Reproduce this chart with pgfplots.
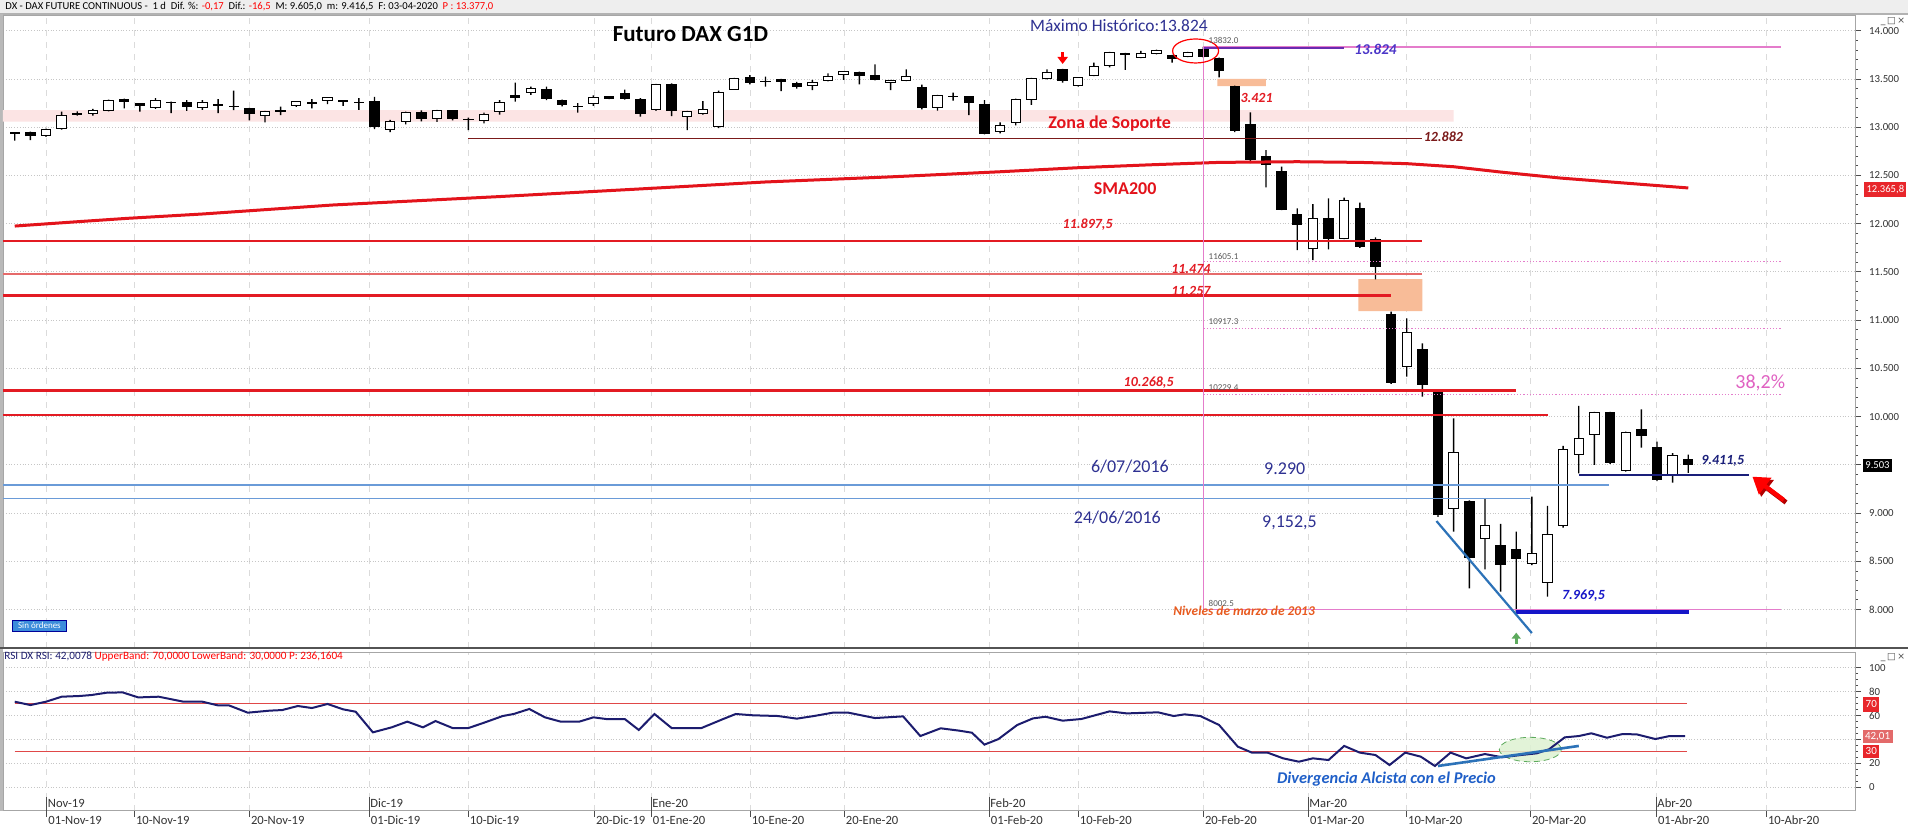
\documentclass[border=0pt]{standalone}
\usepackage{pgfplots}
\pgfplotsset{compat=1.18}
\usepackage{pgfplotstable}
\usepackage{fontspec}
\setmainfont{Carlito}
\newfontfamily\djv{DejaVu Sans}
\usetikzlibrary{arrows.meta}

\definecolor{fibpink}{HTML}{E47CCB}
\definecolor{zonepink}{HTML}{FCE4E4}
\definecolor{gapor}{HTML}{F8BC98}
\definecolor{smared}{HTML}{E3131B}
\definecolor{linered}{HTML}{E31B23}
\definecolor{thinred}{HTML}{E66A6A}
\definecolor{darkred}{HTML}{7B1A1A}
\definecolor{lblue}{HTML}{6A9BD8}
\definecolor{navytxt}{HTML}{2E3192}
\definecolor{rsinavy}{HTML}{1C1C6E}
\definecolor{trendblue}{HTML}{2C72B8}
\definecolor{divblue}{HTML}{1F5FC8}
\definecolor{lvlblue}{HTML}{1515C8}
\definecolor{lvlnavy}{HTML}{1A1F7A}
\definecolor{purpleline}{HTML}{6A2BB0}
\definecolor{lblviolet}{HTML}{4B36C8}
\definecolor{orangetxt}{HTML}{E85A1E}
\definecolor{pct}{HTML}{E062C2}
\definecolor{greenfill}{HTML}{DDF2D2}
\definecolor{greenline}{HTML}{5DAA5D}
\definecolor{bandred}{HTML}{E04848}
\definecolor{tagred}{HTML}{E8262B}
\definecolor{taglight}{HTML}{E36A6A}
\definecolor{sinblue}{HTML}{3C8DDB}

\newcommand{\fs}[1]{\fontsize{#1}{#1}\selectfont}

\pgfplotstableread{
i o h l c
-2 12940 12945 12860 12935
-1 12950 12955 12865 12915
0 12910 12985 12900 12975
1 12990 13160 12975 13125
2 13135 13165 13120 13145
3 13140 13190 13120 13175
4 13175 13285 13165 13275
5 13290 13295 13195 13265
6 13245 13250 13160 13225
7 13200 13300 13190 13275
8 13260 13265 13145 13255
9 13255 13280 13170 13215
10 13206 13280 13180 13254
11 13225 13290 13145 13232
12 13210 13380 13178 13215
13 13195 13200 13070 13140
14 13120 13170 13050 13165
15 13165 13213 13126 13172
16 13220 13268 13210 13265
17 13250 13292 13195 13256
18 13275 13310 13240 13305
19 13272 13275 13220 13268
20 13255 13300 13180 13258
21 13265 13315 12980 13005
22 12975 13075 12950 13055
23 13060 13160 13030 13150
24 13150 13175 13060 13085
25 13085 13180 13055 13175
26 13170 13175 13070 13085
27 13078 13100 12970 13082
28 13065 13150 13040 13135
29 13160 13280 13130 13255
30 13330 13462 13265 13312
31 13360 13420 13335 13400
32 13390 13420 13280 13295
33 13280 13285 13215 13240
34 13212 13250 13150 13218
35 13250 13330 13220 13310
36 13313 13318 13290 13296
37 13345 13390 13285 13295
38 13290 13300 13110 13140
39 13180 13450 13170 13445
40 13445 13455 13115 13170
41 13115 13170 12970 13160
42 13140 13270 13130 13185
43 13005 13380 12990 13360
44 13395 13510 13390 13500
45 13515 13540 13445 13465
46 13470 13524 13420 13474
47 13496 13500 13375 13472
48 13448 13470 13400 13420
49 13428 13490 13385 13468
50 13480 13558 13475 13530
51 13548 13580 13490 13575
52 13570 13575 13445 13537
53 13537 13650 13485 13490
54 13462 13490 13385 13486
55 13482 13600 13478 13530
56 13413 13440 13185 13202
57 13206 13335 13171 13330
58 13314 13358 13275 13318
59 13316 13320 13126 13254
60 13240 13280 12925 12936
61 12955 13050 12935 13020
62 13047 13295 13020 13289
63 13282 13510 13230 13506
64 13500 13600 13495 13569
65 13600 13605 13462 13480
66 13428 13520 13420 13517
67 13534 13669 13530 13634
68 13638 13780 13620 13776
69 13755 13770 13593 13760
70 13725 13790 13715 13765
71 13766 13805 13755 13793
72 13740 13750 13669 13715
73 13731 13780 13725 13772
74 13805 13832 13720 13735
75 13715 13720 13516 13588
76 13425 13430 12950 12962
77 13027 13154 12628 12660
78 12701 12763 12376 12618
79 12538 12590 12140 12148
80 12090 12158 11726 11996
81 11744 12203 11623 12055
82 12055 12262 11733 11847
83 11847 12269 11840 12245
84 12158 12217 11750 11768
85 11837 11858 11422 11554
86 11053 11087 10340 10351
87 10524 11018 10414 10870
88 10697 10759 10207 10334
89 10250 10270 8960 8990
90 9049 9982 8807 9630
91 9118 9130 8220 8541
92 8738 9146 8417 8866
93 8662 8887 8185 8469
94 8617 8807 7970 8531
95 8479 9170 8460 8583
96 8279 9073 8134 8780
97 8866 9695 8850 9661
98 9602 10110 9412 9775
99 9816 10050 9498 10041
100 10044 10050 9510 9526
101 9446 9845 9430 9837
102 9861 10075 9678 9799
103 9678 9740 9330 9343
104 9395 9620 9315 9595
105 9550 9605 9416 9503
}\candles

\pgfplotsset{
 pricegeom/.style={at={(1.5pt,93pt)}, anchor=south west, width=926pt, height=316.5pt,
   scale only axis, xmin=-2.75, xmax=115.66, ymin=7601, ymax=14163},
 rsigeom/.style={at={(1.5pt,11.65pt)}, anchor=south west, width=926pt, height=79.35pt,
   scale only axis, xmin=-2.75, xmax=115.66, ymin=-19.9, ymax=113.2},
}

\begin{document}
\begin{tikzpicture}
\useasboundingbox (0,0) rectangle (954pt,417pt);
\fill[white] (0,0) rectangle (954pt,417pt);
% header bar
\fill[gray!13] (0,410pt) rectangle (954pt,417pt);
\draw[gray!60, line width=0.6pt] (0,410pt) -- (954pt,410pt);
\node[anchor=west, inner sep=0pt, font=\fs{5.3}] at (2.5pt,413.6pt)
 {DX - DAX FUTURE CONTINUOUS -\ \ 1 d\ \ Dif. \%: \textcolor{red}{-0,17}\ \ Dif.: \textcolor{red}{-16,5}\ \ M: 9.605,0\ \ m: 9.416,5\ \ F: 03-04-2020\ \ \textcolor{red}{P : 13.377,0}};
\node[anchor=east, inner sep=0.3pt, font=\djv\fs{4.6}, text=black!70] at (953pt,406pt) {\_\,□\,×};
\node[anchor=east, inner sep=0.3pt, font=\djv\fs{4.6}, text=black!70] at (953pt,88pt) {\_\,□\,×};
\fill[gray!55] (0,11.65pt) rectangle (1.3pt,410pt);

% ---------- price panel: background, frame, ticks
\begin{axis}[pricegeom,
  axis line style={gray!70},
  xtick={0.03,5.63,12.98,20.65,26.98,35.04,38.68,45.01,51.02,60.29,65.98,73.98,80.69,86.96,94.88,102.94,109.97},
  xticklabels={}, xtick style={draw=none},
  xmajorgrids, major x grid style={dashed, gray!28, line width=0.4pt},
  ytick={8000,8500,...,14000}, ymajorgrids, major y grid style={densely dotted, gray!45, line width=0.4pt},
  yticklabels={8.000,8.500,9.000,,10.000,10.500,11.000,11.500,12.000,12.500,13.000,13.500,14.000},
  ytick pos=right, yticklabel pos=right, tick align=outside,
  minor y tick num=4, major tick length=3pt, minor tick length=1.5pt,
  yticklabel style={font=\fs{5.4}, text=black!80, xshift=0.5pt},
  every tick/.style={gray!60!black, line width=0.4pt},
]
\addplot[draw=none, fill=zonepink] coordinates {(-2.75,13057) (90,13057) (90,13178) (-2.75,13178) (-2.75,13057)};
\addplot[draw=none, fill=gapor] coordinates {(74.9,13425) (78.0,13425) (78.0,13500) (74.9,13500) (74.9,13425)};
\addplot[draw=none, fill=gapor] coordinates {(83.9,11092) (88.0,11092) (88.0,11424) (83.9,11424) (83.9,11092)};
\end{axis}

% ---------- wicks
\begin{axis}[pricegeom, hide axis, ybar stacked, bar width=0.7pt]
\addplot[draw=none, fill=none] table[x=i, y=l] {\candles};
\addplot[fill=black, draw=none] table[x=i, y expr={\thisrow{h}-\thisrow{l}}] {\candles};
\end{axis}

% ---------- bodies
\begin{axis}[pricegeom, hide axis, ybar stacked, bar width=0.6]
\addplot[draw=none, fill=none] table[x=i, y expr={min(\thisrow{o},\thisrow{c})}] {\candles};
\addplot[fill=white, draw=black, line width=0.5pt] table[x=i, y expr={max(\thisrow{c}-\thisrow{o},0)}] {\candles};
\addplot[fill=black, draw=black, line width=0.5pt] table[x=i, y expr={max(\thisrow{o}-\thisrow{c},0)}] {\candles};
\end{axis}

% ---------- overlays
\begin{axis}[pricegeom, hide axis, clip=false]
% SMA200
\addplot[smared, line width=1.5pt] coordinates {(-2,11975) (2,12020) (5.2,12055) (10,12100) (18.3,12193) (28.8,12279) (38,12360) (46,12432) (54,12485) (61,12538) (66,12580) (70.6,12610) (75,12635) (80,12642) (84,12635) (87,12622) (90,12590) (93,12535) (96.8,12473) (101,12420) (105,12370)};
% support / resistance lines
\addplot[darkred, line width=0.9pt] coordinates {(27,12882) (88,12882)};
\addplot[linered, line width=1pt] coordinates {(-2.75,11822) (88,11822)};
\addplot[thinred, line width=0.6pt] coordinates {(-2.75,11478) (88,11478)};
\addplot[linered, line width=1.3pt] coordinates {(-2.75,11257) (86,11257)};
\addplot[linered, line width=1.3pt] coordinates {(-2.75,10268) (94,10268)};
\addplot[linered, line width=1.4pt] coordinates {(-2.75,10016) (96,10016)};
\addplot[lblue, line width=0.6pt] coordinates {(-2.75,9291) (99.9,9291)};
\addplot[lblue, line width=0.6pt] coordinates {(-2.75,9153) (94.9,9153)};
% fibonacci
\addplot[fibpink, line width=0.6pt] coordinates {(74,13832) (110.9,13832)};
\addplot[purpleline, line width=1pt] coordinates {(74,13824) (83,13824)};
\addplot[fibpink, line width=0.6pt, densely dotted] coordinates {(74,11605) (110.9,11605)};
\addplot[fibpink, line width=0.6pt, densely dotted] coordinates {(74,10917) (110.9,10917)};
\addplot[fibpink, line width=0.6pt, densely dotted] coordinates {(74,10229) (110.9,10229)};
\addplot[fibpink, line width=0.6pt] coordinates {(74,8002.5) (110.9,8002.5)};
\addplot[fibpink, line width=0.7pt] coordinates {(74,13832) (74,8002.5)};
% levels of March
\addplot[lvlblue, line width=2pt] coordinates {(94,7978) (105.05,7978)};
\addplot[lvlnavy, line width=1.2pt] coordinates {(98,9395) (108.9,9395)};
\addplot[trendblue, line width=1.1pt] coordinates {(88.9,8917) (95,7756)};
% ellipse and arrows
\draw[red, line width=0.6pt] (axis cs:73.5,13790) ellipse [x radius=11.5pt, y radius=6pt];
\draw[-{Triangle[width=5pt,length=3.5pt]}, red, line width=1.5pt] (axis cs:65,13775) -- (axis cs:65,13655);
\draw[-{Triangle[width=10pt,length=8pt]}, red!70!black, line width=2.4pt] (axis cs:111.25,9110) -- (axis cs:109.25,9355);
\draw[-{Triangle[width=10pt,length=8pt]}, red, line width=2.2pt] (axis cs:111.1,9135) -- (axis cs:109.1,9377);
\draw[-{Triangle[width=4.5pt,length=3pt]}, greenline, line width=1.3pt] (axis cs:94,7645) -- (axis cs:94,7760);
% texts
\node[font=\fs{11.5}\bfseries] at (axis cs:41.2,13966) {Futuro DAX G1D};
\node[font=\fs{8.7}, text=navytxt] at (axis cs:68.6,14054) {Máximo Histórico:13.824};
\node[font=\fs{9}\bfseries, text=smared] at (axis cs:68.0,13040) {Zona de Soporte};
\node[font=\fs{9}\bfseries, text=smared] at (axis cs:69.0,12366) {SMA200};
\node[font=\fs{7}\bfseries\itshape, text=darkred, anchor=west, inner sep=0.5pt] at (axis cs:88.0,12905) {12.882};
\node[font=\fs{7}\bfseries\itshape, text=linered] at (axis cs:77.4,13308) {3.421};
\node[font=\fs{7.5}\bfseries\itshape, text=lblviolet] at (axis cs:85.0,13810) {13.824};
\node[font=\fs{7}\bfseries\itshape, text=linered] at (axis cs:66.6,11986) {11.897,5};
\node[font=\fs{7}\bfseries\itshape, text=linered] at (axis cs:73.2,11529) {11.474};
\node[font=\fs{7}\bfseries\itshape, text=linered] at (axis cs:73.2,11305) {11.257};
\node[font=\fs{7}\bfseries\itshape, text=linered] at (axis cs:70.5,10351) {10.268,5};
\node[font=\fs{9}, text=navytxt] at (axis cs:69.3,9480) {6/07/2016};
\node[font=\fs{9}, text=navytxt] at (axis cs:79.2,9456) {9.290};
\node[font=\fs{9}, text=navytxt] at (axis cs:68.5,8949) {24/06/2016};
\node[font=\fs{9}, text=navytxt] at (axis cs:79.5,8897) {9,152,5};
\node[font=\fs{6.7}\bfseries\itshape, text=orangetxt] at (axis cs:76.6,7990) {Niveles de marzo de 2013};
\node[font=\fs{4.5}, text=black!65, anchor=west, inner sep=0.5pt] at (axis cs:74.25,13896) {13832.0};
\node[font=\fs{4.5}, text=black!65, anchor=west, inner sep=0.5pt] at (axis cs:74.25,11664) {11605.1};
\node[font=\fs{4.5}, text=black!65, anchor=west, inner sep=0.5pt] at (axis cs:74.25,10980) {10917.3};
\node[font=\fs{4.5}, text=black!65, anchor=west, inner sep=0.5pt] at (axis cs:74.25,10296) {10229.4};
\node[font=\fs{4.5}, text=black!65, anchor=west, inner sep=0.5pt] at (axis cs:74.25,8061) {8002.5};
\node[font=\fs{7}\bfseries\itshape, text=lvlblue] at (axis cs:98.3,8140) {7.969,5};
\node[font=\fs{7}\bfseries\itshape, text=lvlnavy] at (axis cs:107.2,9537) {9.411,5};
\node[font=\fs{10}, text=pct] at (axis cs:109.6,10345) {38,2\%};
\node[fill=sinblue, draw=blue!60!black, line width=0.3pt, text=white, font=\fs{4.5}, inner sep=0.5pt, minimum width=27pt, minimum height=5.8pt] at (axis cs:-0.42,7831) {Sin órdenes};
% price tags
\node[fill=tagred, text=white, font=\fs{5.3}, inner sep=0.5pt, minimum width=21pt, minimum height=7.5pt] at (axis cs:117.6,12355) {12.365,8};
\node[fill=black, text=white, font=\fs{5.3}, inner sep=0.5pt, minimum width=14.5pt, minimum height=6.5pt] at (axis cs:117.1,9493) {9.503};
\end{axis}

\draw[gray!65!black, line width=0.9pt] (0,93pt) -- (954pt,93pt);

% ---------- RSI panel
\begin{axis}[rsigeom,
  axis line style={gray!70},
  xtick={0.03,5.63,12.98,20.65,26.98,35.04,38.68,45.01,51.02,60.29,65.98,73.98,80.69,86.96,94.88,102.94,109.97},
  xticklabels={01-Nov-19,10-Nov-19,20-Nov-19,01-Dic-19,10-Dic-19,20-Dic-19,01-Ene-20,10-Ene-20,20-Ene-20,01-Feb-20,10-Feb-20,20-Feb-20,01-Mar-20,10-Mar-20,20-Mar-20,01-Abr-20,10-Abr-20},
  xtick pos=left, ytick pos=right, yticklabel pos=right,
  tick align=outside, major tick length=3pt, minor tick length=1.5pt,
  every tick/.style={gray!60!black, line width=0.4pt},
  xmajorgrids, ymajorgrids,
  major x grid style={dashed, gray!28, line width=0.4pt},
  major y grid style={densely dotted, gray!45, line width=0.4pt},
  ytick={0,20,...,100}, yticklabels={0,20,,60,80,100}, minor y tick num=3,
  xticklabel style={anchor=north west, font=\fs{6.3}, text=black!80, inner xsep=0.8pt, inner ysep=1pt, yshift=1.5pt},
  yticklabel style={font=\fs{5.4}, text=black!80, xshift=0.5pt},
  clip=false,
]
\node[anchor=west, inner sep=0pt, font=\fs{5.6}] at (axis cs:-2.69,109.8) {\textcolor{rsinavy}{RSI DX RSI: 42,0078}\ \textcolor{red}{UpperBand: 70,0000}\ \textcolor{red}{LowerBand: 30,0000}\ \textcolor{red}{P: 236,1604}};
\addplot[bandred, line width=0.5pt] coordinates {(-2,70) (104.9,70)};
\addplot[bandred, line width=0.5pt] coordinates {(-2,30) (104.9,30)};
\draw[greenline, densely dashed, line width=0.4pt, fill=greenfill, fill opacity=0.85] (axis cs:94.9,31.4) ellipse [x radius=15.5pt, y radius=6.1pt];
\addplot[rsinavy, line width=1pt] coordinates {
(-2,71.5) (-1,68.7) (0,71.5) (1,75.7) (2.15,76.3) (2.9,77.1) (3.9,79.1) (4.9,79.3) (5.9,75.1) (7.2,75.7) (8.8,71.5) (10,71.5) (11,68.4) (11.7,68.4) (12.9,62.3) (14.3,64.0) (15.1,64.5) (16.1,67.9) (17,66.2) (18,69.6) (19,65.1) (19.8,63.1) (20.9,45.8) (22.1,50.0) (23.1,54.8) (24.1,50.0) (24.9,55.3) (26,49.4) (27,49.4) (27.9,53.4) (29.2,59.5) (29.9,61.2) (30.9,65.4) (31.9,58.4) (32.9,54.8) (34.1,54.8) (35,58.4) (35.8,57.0) (37,57.0) (37.9,47.8) (38.9,61.2) (40,49.4) (41.9,49.4) (43.3,57.0) (44.1,61.2) (45.2,60.1) (46.8,59.5) (48,57.3) (49.1,59.5) (50.3,62.3) (51.3,62.3) (53,57.8) (54.8,59.2) (55.9,42.7) (57.2,49.2) (58.4,47.2) (59.2,45.5) (60,35.5) (60.9,40.2) (62.1,52.0) (63.1,57.5) (63.9,58.9) (65,55.6) (66.2,57.0) (68,63.4) (69.1,61.7) (71.1,62.6) (72.1,59.5) (72.8,60.9) (73.8,59.5) (75,52.0) (76.2,33.8) (77.1,28.8) (78.1,28.8) (79.1,24.0) (80.1,21.2) (81,24.0) (82,22.6) (83,34.4) (84,28.8) (85,26.8) (85.9,18.4) (86.9,28.8) (87.9,25.4) (88.8,17.6) (89.8,28.8) (90.8,24.0) (92,27.6) (93.1,24.9) (94.3,26.8) (95.3,28.2) (96.1,31.6) (97.1,41.6) (98,42.7) (98.8,45.0) (99.8,41.3) (100.8,44.4) (101.7,44.1) (102.9,40.2) (103.8,42.7) (104.8,42.7)};
\addplot[trendblue, line width=1.3pt] coordinates {(89.0,17.6) (98.0,34.4)};
\node[font=\fs{8.2}\bfseries\itshape, text=divblue] at (axis cs:85.7,6.5) {Divergencia Alcista con el Precio};
% month markers
\addplot[gray!60!black, line width=0.4pt] coordinates {(0.03,-19.9) (0.03,-8)};
\addplot[gray!60!black, line width=0.4pt] coordinates {(20.65,-19.9) (20.65,-8)};
\addplot[gray!60!black, line width=0.4pt] coordinates {(38.68,-19.9) (38.68,-8)};
\addplot[gray!60!black, line width=0.4pt] coordinates {(60.29,-19.9) (60.29,-8)};
\addplot[gray!60!black, line width=0.4pt] coordinates {(80.69,-19.9) (80.69,-8)};
\addplot[gray!60!black, line width=0.4pt] coordinates {(102.94,-19.9) (102.94,-8)};
\node[anchor=west, font=\fs{6.3}, text=black!80, inner sep=0.5pt] at (axis cs:0.03,-13.7) {Nov-19};
\node[anchor=west, font=\fs{6.3}, text=black!80, inner sep=0.5pt] at (axis cs:20.65,-13.7) {Dic-19};
\node[anchor=west, font=\fs{6.3}, text=black!80, inner sep=0.5pt] at (axis cs:38.68,-13.7) {Ene-20};
\node[anchor=west, font=\fs{6.3}, text=black!80, inner sep=0.5pt] at (axis cs:60.29,-13.7) {Feb-20};
\node[anchor=west, font=\fs{6.3}, text=black!80, inner sep=0.5pt] at (axis cs:80.69,-13.7) {Mar-20};
\node[anchor=west, font=\fs{6.3}, text=black!80, inner sep=0.5pt] at (axis cs:102.94,-13.7) {Abr-20};
\end{axis}

% ---------- RSI tags
\begin{axis}[rsigeom, hide axis, clip=false]
\node[fill=tagred, text=white, font=\fs{5.5}, inner sep=0.4pt, minimum width=8pt, minimum height=7.5pt] at (axis cs:116.7,69.2) {70};
\node[fill=taglight, text=white, font=\fs{5.5}, inner sep=0.4pt, minimum width=15pt, minimum height=6.5pt] at (axis cs:117.1,42.3) {42,01};
\node[fill=tagred, text=white, font=\fs{5.5}, inner sep=0.4pt, minimum width=8pt, minimum height=6.5pt] at (axis cs:116.7,29.8) {30};
\end{axis}
\end{tikzpicture}
\end{document}
